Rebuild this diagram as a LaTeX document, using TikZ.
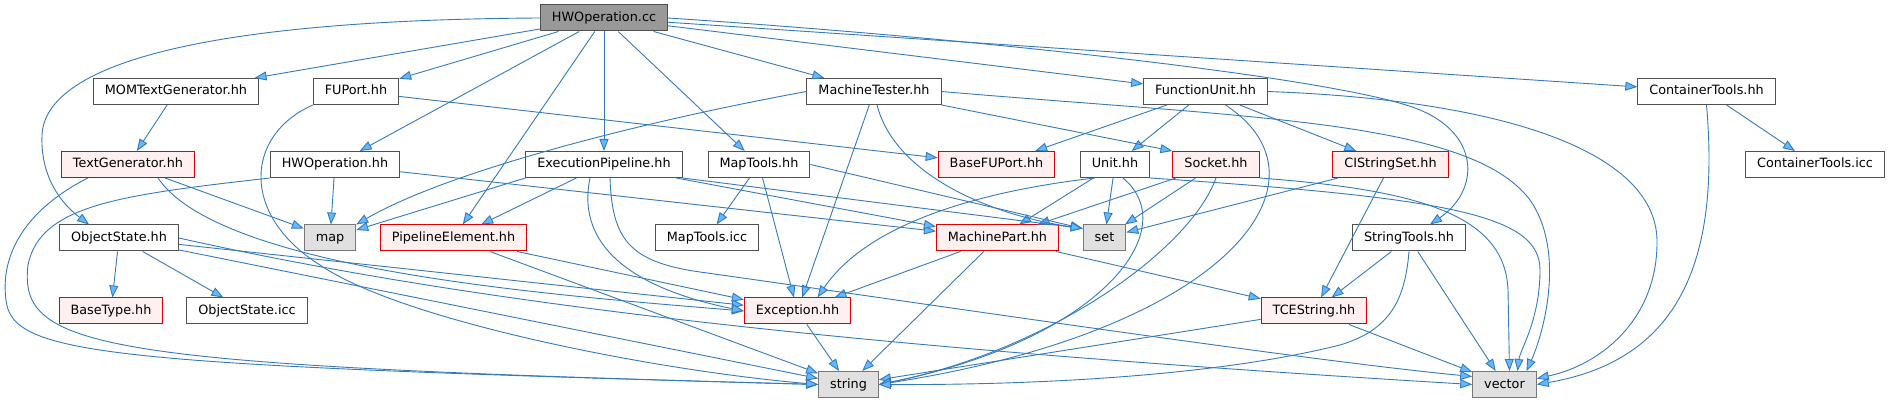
\documentclass[tikz,border=0pt]{standalone}
\usepackage{fontspec}
\setmainfont{DejaVu Sans}
\usetikzlibrary{arrows.meta,calc}
\definecolor{dxedge}{RGB}{52,122,188}
\definecolor{dxhead}{RGB}{99,184,255}
\definecolor{dxframe}{RGB}{80,80,80}
\definecolor{dxred}{RGB}{225,0,0}
\definecolor{dxredfill}{RGB}{255,240,240}
\definecolor{dxsysframe}{RGB}{120,120,120}
\definecolor{dxsysfill}{RGB}{224,224,224}
\definecolor{dxroot}{RGB}{153,153,153}
\tikzset{
  filebox/.style={draw=dxframe, fill=white, line width=1pt, inner xsep=11.5pt, inner ysep=0pt, minimum height=26pt, text height=9.5pt, text depth=2.5pt, font=\fontsize{12.8}{15}\selectfont},
  redbox/.style={filebox, draw=dxred, fill=dxredfill},
  sysbox/.style={filebox, draw=dxsysframe, fill=dxsysfill},
  rootbox/.style={filebox, fill=dxroot},
  dep/.style={draw=dxedge, line width=0.9pt, -{Triangle[length=12pt,width=9pt,fill=dxhead]}}
}
\begin{document}
\begin{tikzpicture}[x=1pt,y=-1pt]
\useasboundingbox (0,0) rectangle (1890,403);
\node[rootbox] (cc) at (604,18) {HWOperation.cc};
\node[filebox] (momtg) at (176,91.5) {MOMTextGenerator.hh};
\node[filebox] (fuport) at (356,91.5) {FUPort.hh};
\node[filebox] (mtester) at (874,91.5) {MachineTester.hh};
\node[filebox] (funit) at (1205.5,91.5) {FunctionUnit.hh};
\node[filebox] (conth) at (1706.5,91.5) {ContainerTools.hh};
\node[redbox] (tg) at (128,164.5) {TextGenerator.hh};
\node[filebox] (hwoph) at (335,164.5) {HWOperation.hh};
\node[filebox] (execpipe) at (604,164.5) {ExecutionPipeline.hh};
\node[filebox] (maptools) at (759,164.5) {MapTools.hh};
\node[redbox] (basefu) at (996.5,164.5) {BaseFUPort.hh};
\node[filebox] (unit) at (1115,164.5) {Unit.hh};
\node[redbox] (socket) at (1216,164.5) {Socket.hh};
\node[redbox] (cistr) at (1390.5,164.5) {CIStringSet.hh};
\node[filebox] (conticc) at (1815,164.5) {ContainerTools.icc};
\node[filebox] (objst) at (119,238) {ObjectState.hh};
\node[sysbox] (mapn) at (330,238) {map};
\node[redbox] (pipeel) at (453.5,238) {PipelineElement.hh};
\node[filebox] (mapicc) at (707,238) {MapTools.icc};
\node[redbox] (mpart) at (997.5,238) {MachinePart.hh};
\node[sysbox] (setn) at (1104.5,238) {set};
\node[filebox] (strtools) at (1409,238) {StringTools.hh};
\node[redbox] (basetype) at (111,311) {BaseType.hh};
\node[filebox] (objicc) at (247,311) {ObjectState.icc};
\node[redbox] (exc) at (797.5,311) {Exception.hh};
\node[redbox] (tcestr) at (1314,311) {TCEString.hh};
\node[sysbox] (stringn) at (848.5,384.5) {string};
\node[sysbox] (vectorn) at (1504.5,384.5) {vector};
\foreach \a/\b in {cc/momtg,cc/fuport,cc/hwoph,cc/pipeel,cc/execpipe,cc/maptools,cc/mtester,cc/funit,cc/conth,
  momtg/tg,tg/mapn,fuport/basefu,hwoph/mapn,hwoph/mpart,objst/basetype,objst/objicc,objst/exc,objst/stringn,
  execpipe/pipeel,execpipe/mpart,pipeel/exc,pipeel/stringn,maptools/mapicc,maptools/exc,mtester/exc,
  funit/basefu,funit/unit,funit/cistr,unit/mpart,unit/setn,socket/mpart,socket/setn,cistr/setn,cistr/tcestr,
  mpart/exc,mpart/stringn,mpart/tcestr,exc/stringn,strtools/tcestr,strtools/vectorn,tcestr/stringn,tcestr/vectorn,conth/conticc}{\draw[dep] (\a) -- (\b);}
\draw[dep] (execpipe.south west) -- ($(mapn.east)+(0,-8)$);
\draw[dep] (execpipe.south east) -- ($(setn.north west)+(0,4)$);
\draw[dep] (maptools.east) -- ($(setn.north west)+(0,4)$);
\draw[dep] (mtester.south east) -- (socket.north west);
\draw[dep] (cc.west) .. controls (180,20) and (45,70) .. (42,135) .. controls (40,185) and (70,210) .. ($(objst.north)!0.5!(objst.north west)$);
\draw[dep] (cc.east) .. controls (1000,40) and (1350,80) .. (1420,110) .. controls (1480,135) and (1480,190) .. ($(strtools.north)+(21,0)$);
\draw[dep] ($(tg.south west)!0.4!(tg.south)$) .. controls (25,210) and (0,255) .. (6,300) .. controls (12,355) and (100,365) .. (stringn.west);
\draw[dep] (hwoph.south west) .. controls (120,195) and (40,205) .. (28,265) .. controls (18,350) and (100,365) .. (stringn.west);
\draw[dep] (fuport.south west) .. controls (245,135) and (240,215) .. (320,265) .. controls (400,320) and (650,370) .. (stringn.west);
\draw[dep] ($(tg.south)+(30,0)$) .. controls (220,270) and (550,295) .. (exc.west);
\draw[dep] (objst.east) .. controls (500,310) and (900,350) .. (vectorn.west);
\draw[dep] ($(execpipe.south)+(-14,0)$) .. controls (575,250) and (640,290) .. (exc.west);
\draw[dep] ($(execpipe.south)+(6,0)$) .. controls (612,240) and (630,262) .. (700,272) .. controls (900,300) and (1300,360) .. ($(vectorn.west)+(0,-8)$);
\draw[dep] (mtester.west) .. controls (650,120) and (450,170) .. (mapn.north east);
\draw[dep] ($(mtester.south)+(3,0)$) .. controls (895,175) and (990,215) .. ($(setn.north west)+(0,4)$);
\draw[dep] (mtester.east) .. controls (1250,118) and (1470,120) .. (1530,200) .. controls (1565,250) and (1545,330) .. ($(vectorn.north)+(22,0)$);
\draw[dep] ($(funit.south)+(20,0)$) .. controls (1340,180) and (1230,330) .. (stringn.east);
\draw[dep] (funit.east) .. controls (1500,100) and (1655,150) .. (1657,240) .. controls (1658,320) and (1600,365) .. ($(vectorn.east)+(0,-6)$);
\draw[dep] ($(unit.south west)+(15,0)$) .. controls (990,190) and (870,220) .. ($(exc.north)+(20,0)$);
\draw[dep] ($(unit.south)+(8,0)$) .. controls (1185,230) and (1100,340) .. (stringn.east);
\draw[dep] (unit.south east) .. controls (1450,198) and (1540,215) .. (1540,270) .. controls (1540,320) and (1520,350) .. ($(vectorn.north)+(13,0)$);
\draw[dep] (socket.south) .. controls (1190,250) and (1050,350) .. (stringn.east);
\draw[dep] (socket.south east) .. controls (1420,190) and (1505,215) .. (1508,290) -- ($(vectorn.north)+(5,0)$);
\draw[dep] (strtools.south) .. controls (1405,300) and (1390,330) .. (1340,345) .. controls (1200,380) and (1000,385) .. (stringn.east);
\draw[dep] (conth.south) .. controls (1720,260) and (1680,360) .. (vectorn.east);
\end{tikzpicture}
\end{document}
